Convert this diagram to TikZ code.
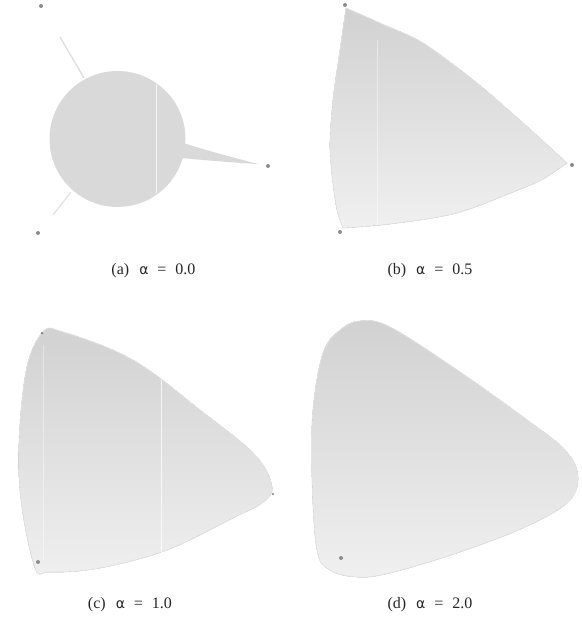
\documentclass[tikz,border=0pt]{standalone}
\usepackage{fontspec}
\setmainfont{Liberation Serif}
\newfontfamily\alphafont{DejaVu Sans}
\tikzset{
  blob/.style={top color=black!18, bottom color=black!6, draw=none,
    postaction={draw=black!11, line width=0.8pt}},
  flat/.style={fill=black!15, draw=none},
  dotpt/.style={circle, fill=black!45, inner sep=0pt, minimum size=4pt},
  streak/.style={white, line width=0.9pt, opacity=0.75},
  captext/.style={font=\fontsize{16}{18}\selectfont, inner sep=0pt, text=black!85}
}
\newcommand{\al}{{\alphafont\fontsize{14}{16}\selectfont α}}
\newcommand{\lab}[2]{(#1)\hspace{10pt}\al\hspace{9pt}=\hspace{9pt}#2}
\begin{document}
\begin{tikzpicture}[x=1pt,y=-1pt]
\useasboundingbox (0,0) rectangle (581,634);
% ---------- (a) ----------
\fill[flat] (117.5,139) circle (68);
\fill[flat] (180,142) .. controls (205,150) and (235,158) .. (258,164)
  .. controls (235,163) and (205,160) .. (180,158) -- cycle;
\draw[black!13, line width=1.3pt] (60,37) -- (84,78);
\draw[black!11, line width=1.3pt] (53,215) -- (71,192);
\draw[streak] (156,84) -- (156,193);
\node[dotpt] (a1) at (41,6) {};
\node[dotpt] (a2) at (38,233) {};
\node[dotpt] (a3) at (268,166) {};
\node[captext] (la) at (153.5,271) {\lab{a}{0.0}};
% ---------- (b) ----------
\fill[blob] plot[smooth] coordinates {(346,8) (382,24) (423,43) (477,83) (523,123) (567,163)}
  -- plot[smooth] coordinates {(567,163) (545,178) (523,188) (457,213) (390,224) (343,228)}
  -- plot[smooth] coordinates {(343,228) (336,205) (330,150) (333,100) (340,50) (346,8)}
  -- cycle;
\draw[white, line width=0.8pt, opacity=0.45] (377,40) -- (377,225);
\node[dotpt] (b1) at (345,5) {};
\node[dotpt] (b2) at (572,165) {};
\node[dotpt] (b3) at (340,232) {};
\node[captext] (lb) at (430,271) {\lab{b}{0.5}};
% ---------- (c) ----------
\fill[blob] plot[smooth cycle, tension=0.6] coordinates {(42,333) (63,332) (133,360) (200,410) (255,455) (272,487) (262,503) (233,518) (167,550) (100,568) (50,572) (34,565) (19,477) (25,377)};
\draw[streak] (161,378) -- (161,558);
\draw[white, line width=0.7pt, opacity=0.4] (43,345) -- (43,560);
\node[dotpt, minimum size=3pt] (c1) at (42,333) {};
\node[dotpt] (c2) at (38,562) {};
\node[dotpt, minimum size=2.5pt] (c3) at (273,494) {};
\node[captext] (lc) at (130,605) {\lab{c}{1.0}};
% ---------- (d) ----------
\fill[blob] plot[smooth cycle, tension=0.6] coordinates {(323,353) (340,330) (360,321) (390,327) (457,370) (523,417) (565,450) (578,477) (567,503) (523,528) (457,553) (390,573) (357,577) (330,570) (317,550) (312,477) (313,410)};
\node[dotpt] (d1) at (341,558) {};
\node[captext] (ld) at (430,605) {\lab{d}{2.0}};
\end{tikzpicture}
\end{document}
